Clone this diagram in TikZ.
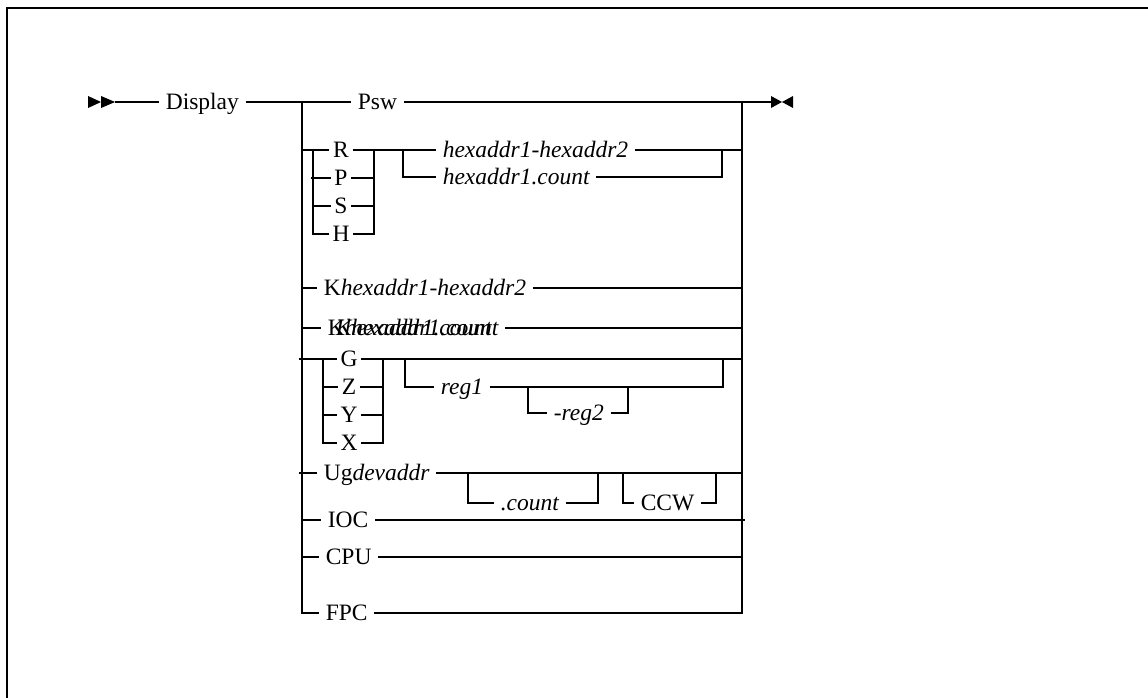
\documentclass[tikz,border=0pt]{standalone}
\usepackage{fontspec}
\setmainfont{Liberation Serif}
\begin{document}
\begin{tikzpicture}[x=1pt,y=-1pt,line width=1.6pt,
  lbl/.style={anchor=west,inner xsep=6pt,inner ysep=0pt,text height=15.6pt,text depth=0pt,font=\fontsize{23.5}{28}\selectfont},
  it/.style={lbl,font=\fontsize{23.5}{28}\selectfont\itshape},
  ltr/.style={lbl,anchor=center,inner xsep=3pt},
  frame/.style={line width=2pt}]
\useasboundingbox (0,0) rectangle (1148,698);
\draw[frame] (7,698) -- (7,8) -- (1148,8);
% junctions
\coordinate (start) at (115,102);
\coordinate (jL) at (302,102);
\coordinate (jR) at (742,102);
\coordinate (endA) at (771,102);
\coordinate (lb) at (302,613);
\coordinate (rb) at (742,613);
% arrowheads
\fill (88,96) -- (101,102) -- (88,108) -- cycle;
\fill (101,96) -- (start) -- (101,108) -- cycle;
\fill (endA) ++(0,-6) -- (782,102) -- (771,108) -- cycle;
\fill (793,96) -- (782,102) -- (793,108) -- cycle;
% labels
\node[lbl] (disp) at (159,102) {Display};
\node[lbl] (psw) at (351,102) {Psw};
\node[ltr] (R) at (341,150) {R};
\node[ltr] (P) at (341,178) {P};
\node[ltr] (S) at (341,206) {S};
\node[ltr] (H) at (341,234) {H};
\node[it] (hx2) at (436,150) {hexaddr1-hexaddr2};
\node[it] (hc) at (436,177) {hexaddr1.count};
\node[lbl] (k1) at (317,288) {K\textit{hexaddr1-hexaddr2}};
\node[lbl] (k2) at (321,328) {K\textit{hexaddr1.count}};
\node[it] (k2b) at (329,328) {Khexaddr1.count};
\node[ltr] (G) at (349,359) {G};
\node[ltr] (Z) at (349,387) {Z};
\node[ltr] (Y) at (349,415) {Y};
\node[ltr] (X) at (349,443) {X};
\node[it] (r1) at (434,387) {reg1};
\node[it] (r2) at (547,413) {-reg2};
\node[lbl] (ug) at (317,473) {Ug\textit{devaddr}};
\node[it] (cnt) at (494,503) {.count};
\node[lbl] (ccw) at (634,503) {CCW};
\node[lbl] (ioc) at (321,520) {IOC};
\node[lbl] (cpu) at (319,557) {CPU};
\node[lbl] (fpc) at (319,613) {FPC};
% main line
\draw (start) -- (disp.west);
\draw (disp.east) -- (jL) -- (psw.west);
\draw (psw.east) -- (jR) -- (endA);
\draw (jL) -- (lb) -- (fpc.west);
\draw (fpc.east) -- (rb) -- (jR);
% R P S H
\coordinate (rl1) at (313,150);
\coordinate (rl2) at (313,234);
\coordinate (rr1) at (374,150);
\coordinate (rr2) at (374,234);
\draw (R.west -| jL) -- (R.west);
\draw (rl1) -- (rl2) -- (H.west);
\draw (311,178) -- (P.west);
\draw (S.west -| rl1) -- (S.west);
\draw (P.east) -- (P.east -| rr1);
\draw (S.east) -- (S.east -| rr1);
\draw (H.east) -- (rr2) -- (rr1);
\coordinate (hxa) at (403,150);
\coordinate (hxb) at (722,150);
\draw (R.east) -- (hxa) -- (hx2.west);
\draw (hxa) -- (hxa |- hc.west) -- (hc.west);
\draw (hx2.east) -- (hxb) -- (hxb -| jR);
\draw (hc.east) -- (hc.east -| hxb) -- (hxb);
% K rows
\draw (k1.west -| jL) -- (k1.west);
\draw (k1.east) -- (k1.east -| jR);
\draw (k2.west -| jL) -- (k2.west);
\draw (k2b.east) -- (k2b.east -| jR);
% G Z Y X
\coordinate (gl1) at (323,359);
\coordinate (gl2) at (323,443);
\coordinate (gr1) at (383,359);
\coordinate (gr2) at (383,443);
\draw (299,359) -- (G.west);
\draw (gl1) -- (gl2) -- (X.west);
\draw (Z.west -| gl1) -- (Z.west);
\draw (Y.west -| gl1) -- (Y.west);
\draw (Z.east) -- (Z.east -| gr1);
\draw (Y.east) -- (Y.east -| gr1);
\draw (X.east) -- (gr2) -- (gr1);
\draw (G.east) -- (G.east -| jR);
\coordinate (ra) at (405,359);
\coordinate (rz) at (723,359);
\draw (ra) -- (ra |- r1.west) -- (r1.west);
\draw (r1.east) -- (r1.east -| rz) -- (rz);
\coordinate (r2a) at (528,387);
\coordinate (r2z) at (628,387);
\draw (r2a) -- (r2a |- r2.west) -- (r2.west);
\draw (r2.east) -- (r2.east -| r2z) -- (r2z);
% Ug
\draw (299,473) -- (ug.west);
\draw (ug.east) -- (ug.east -| jR);
\coordinate (ua) at (468,473);
\coordinate (uz) at (598,473);
\draw (ua) -- (ua |- cnt.west) -- (cnt.west);
\draw (cnt.east) -- (cnt.east -| uz) -- (uz);
\coordinate (ca) at (623,473);
\coordinate (cz) at (716,473);
\draw (ca) -- (ca |- ccw.west) -- (ccw.west);
\draw (ccw.east) -- (ccw.east -| cz) -- (cz);
% IOC CPU
\draw (ioc.west -| jL) -- (ioc.west);
\draw (ioc.east) -- (745,520);
\draw (cpu.west -| jL) -- (cpu.west);
\draw (cpu.east) -- (cpu.east -| jR);
\end{tikzpicture}
\end{document}
